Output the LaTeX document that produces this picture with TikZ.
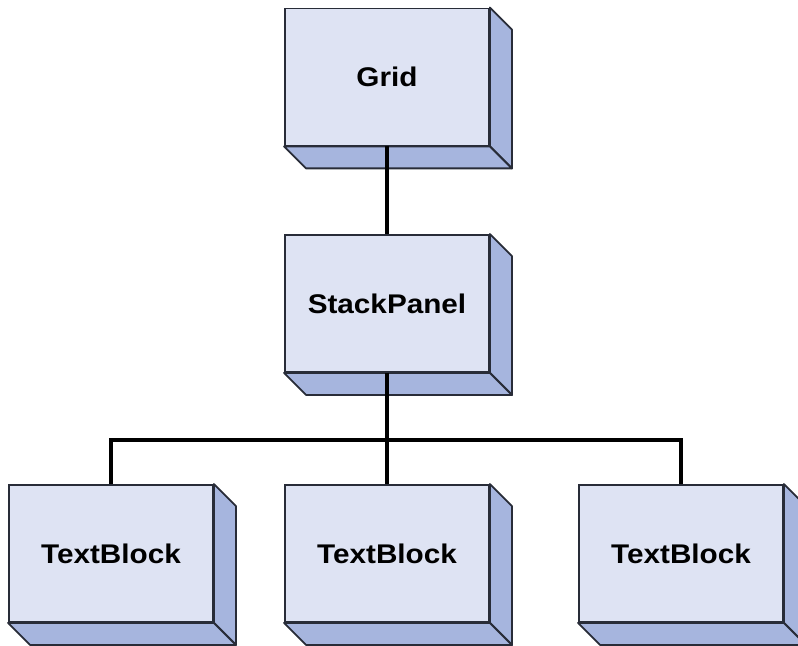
\documentclass[tikz,border=0pt]{standalone}
\usepackage{fontspec}
\setmainfont{Liberation Sans}[FakeStretch=1.1]
\usepackage{tikz}
\usetikzlibrary{positioning}

\definecolor{frontblue}{RGB}{222,227,243}
\definecolor{sideblue}{RGB}{166,181,222}
\definecolor{edgegray}{RGB}{40,44,56}

\tikzset{
    box/.style={draw=edgegray, fill=frontblue, line width=1.4pt, minimum width=153pt, minimum height=102.75pt,
        font=\fontsize{20.25pt}{24pt}\selectfont\bfseries, inner sep=0pt},
    face/.style={draw=edgegray, fill=sideblue, line width=1.4pt, line join=round},
    wire/.style={line width=3.2pt, line join=miter}
}

% front face plus the two faces behind it
\newcommand{\cubebox}[3]{
    \node[box] (#1) at (#2) {#3};
    \filldraw[face] (#1.north east) -- ++(22,22) -- ([shift={(22,22)}]#1.south east) -- (#1.south east) -- cycle;
    \filldraw[face] (#1.south west) -- ++(22,22) -- ([shift={(22,22)}]#1.south east) -- (#1.south east) -- cycle;
}

\begin{document}
\begin{tikzpicture}[x=0.75pt, y=-0.75pt]
    \useasboundingbox (0,0) rectangle (798,645);
    \clip (0,0) rectangle (798,645);

    \cubebox{grid}{387,77}{Grid}
    \cubebox{stack}{387,303.5}{StackPanel}
    \cubebox{tbleft}{111,553.5}{TextBlock}
    \cubebox{tbmid}{387,553.5}{TextBlock}
    \cubebox{tbright}{681,553.5}{TextBlock}

    \coordinate (bus) at (387,440);
    \draw[wire] (grid.south) -- (stack.north);
    \draw[wire] (stack.south) -- (bus);
    \draw[wire] (tbleft.north) |- (bus) -| (tbright.north);
    \draw[wire] (bus) -- (tbmid.north);
\end{tikzpicture}
\end{document}
